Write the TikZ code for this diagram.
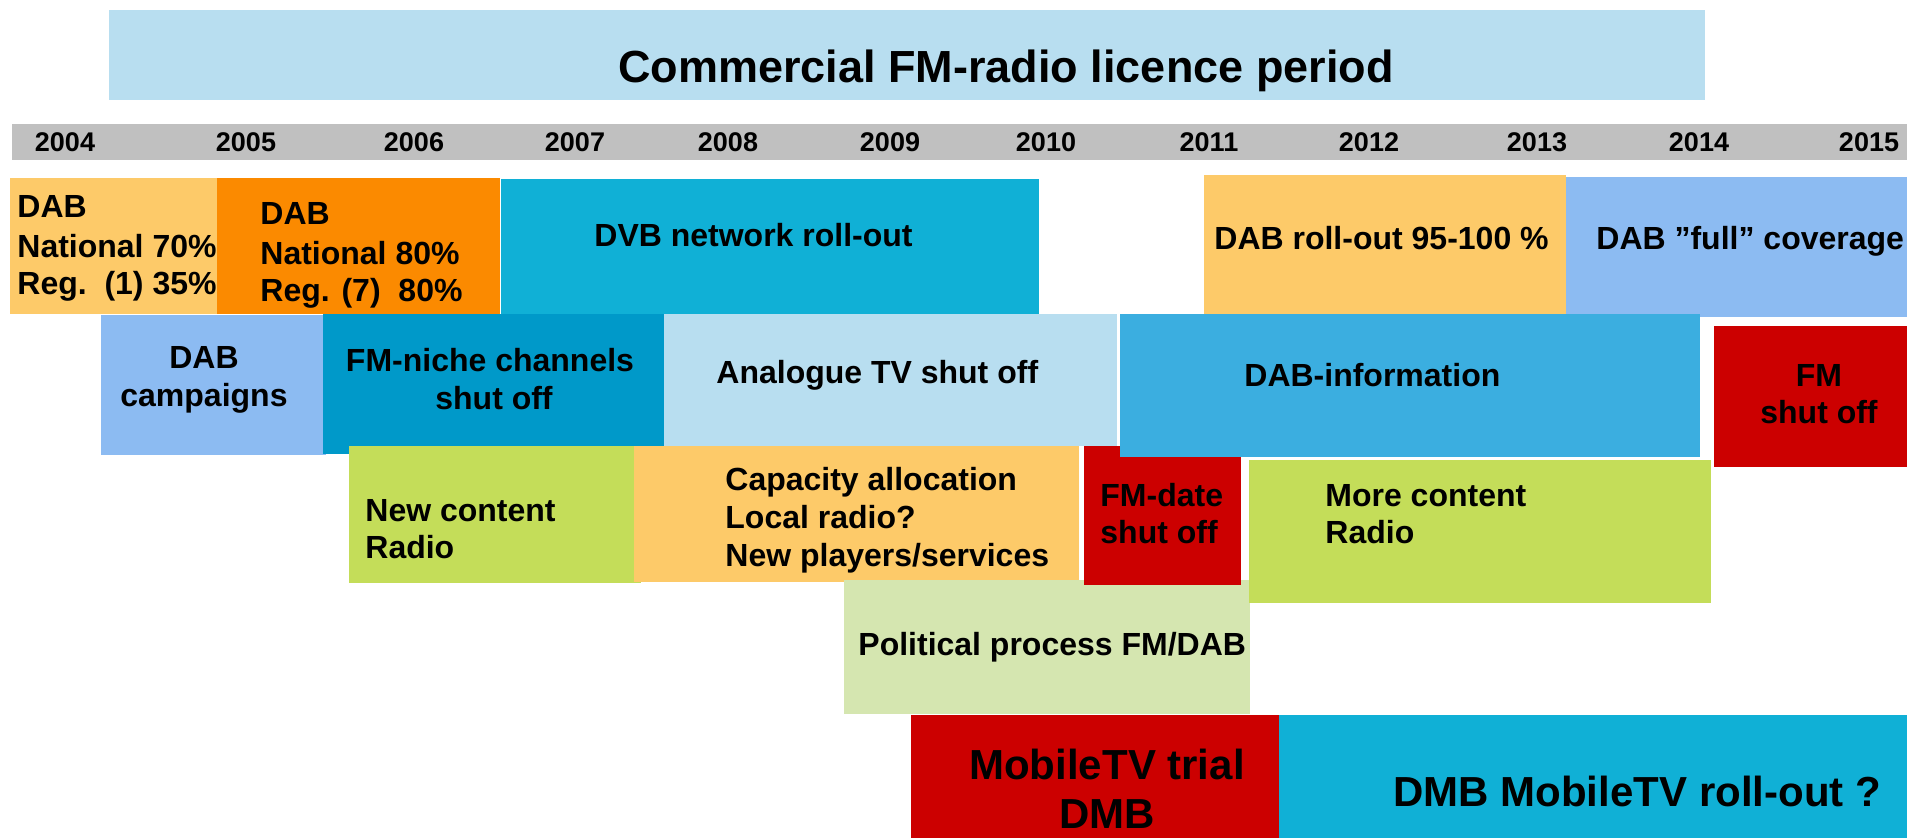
\documentclass[tikz,border=0pt]{standalone}
\usepackage{fontspec}
\setmainfont{Liberation Sans}
\definecolor{titlebg}{HTML}{B8DEF0}
\definecolor{yearbg}{HTML}{C0C0C0}
\definecolor{lorange}{HTML}{FDCA69}
\definecolor{dorange}{HTML}{FB8A00}
\definecolor{cyanA}{HTML}{10B0D6}
\definecolor{cyanB}{HTML}{0099C9}
\definecolor{lblue}{HTML}{8CBBF2}
\definecolor{pblue}{HTML}{B8DEF0}
\definecolor{mblue}{HTML}{3BAEE0}
\definecolor{redA}{HTML}{CC0000}
\definecolor{greenA}{HTML}{C4DD59}
\definecolor{pgreen}{HTML}{D5E6B0}
\begin{document}
\begin{tikzpicture}[x=0.5pt,y=-0.5pt,
  lbl/.style={inner sep=0pt, font=\fontsize{16}{19}\selectfont\bfseries, anchor=base west},
  lblc/.style={lbl, anchor=base},
  yr/.style={inner sep=0pt, font=\fontsize{13.5}{16}\selectfont\bfseries, anchor=base},
  big/.style={inner sep=0pt, font=\fontsize{21}{25}\selectfont\bfseries, anchor=base},
  ttl/.style={inner sep=0pt, font=\fontsize{22.5}{27}\selectfont\bfseries, anchor=base west}]
\useasboundingbox (0,0) rectangle (1907,838);
% title and years
\fill[titlebg] (109,10) rectangle (1705,100);
\fill[yearbg] (12,124) rectangle (1907,160);
% row 1
\fill[lorange] (10,178) rectangle (217,314);
\fill[dorange] (217,178) rectangle (500,314);
\fill[cyanA] (501,179) rectangle (1039,314);
\fill[lorange] (1204,175) rectangle (1566,314);
\fill[lblue] (1566,177) rectangle (1907,317);
% row 2
\fill[lblue] (101,315) rectangle (326,455);
\fill[cyanB] (323,314) rectangle (664,454);
\fill[pblue] (664,314) rectangle (1117,446);
\fill[redA] (1714,326) rectangle (1907,467);
% row 3
\fill[greenA] (349,446) rectangle (641,583);
\fill[lorange] (634,446) rectangle (1079,582);
\fill[pgreen] (844,580) rectangle (1250,714);
\fill[redA] (1084,446) rectangle (1241,585);
\fill[mblue] (1120,314) rectangle (1700,457);
\fill[greenA] (1249,460) rectangle (1711,603);
% row 4
\fill[redA] (911,715) rectangle (1279,838);
\fill[cyanA] (1279,715) rectangle (1907,838);
% texts
\node[ttl] (title) at (618,83) {Commercial FM-radio licence period};
\node[yr] (y04) at (65,152) {2004};
\node[yr] (y05) at (246,152) {2005};
\node[yr] (y06) at (414,152) {2006};
\node[yr] (y07) at (575,152) {2007};
\node[yr] (y08) at (728,152) {2008};
\node[yr] (y09) at (890,152) {2009};
\node[yr] (y10) at (1046,152) {2010};
\node[yr] (y11) at (1209,152) {2011};
\node[yr] (y12) at (1369,152) {2012};
\node[yr] (y13) at (1537,152) {2013};
\node[yr] (y14) at (1699,152) {2014};
\node[yr] (y15) at (1869,152) {2015};
% row1 texts
\node[lbl] (a1) at (17,218) {DAB};
\node[lbl] (a2) at (17,258) {National 70\%};
\node[lbl] (a3) at (17,295) {Reg.\ \ (1) 35\%};
\node[lbl] (b1) at (260,225) {DAB};
\node[lbl] (b2) at (260,265) {National 80\%};
\node[lbl] (b3) at (260,302) {Reg. (7)\ \ 80\%};
\node[lbl] (c1) at (594,247) {DVB network roll-out};
\node[lbl] (d1) at (1214,250) {DAB roll-out 95-100 \%};
\node[lbl] (e1) at (1596,250) {DAB ”full” coverage};
% row2 texts
\node[lblc] (f1) at (204,369) {DAB};
\node[lblc] (f2) at (204,407) {campaigns};
\node[lblc] (g1) at (490,372) {FM-niche channels};
\node[lblc] (g2) at (494,410) {shut off};
\node[lbl] (h1) at (716,384) {Analogue TV shut off};
\node[lbl] (i1) at (1244,387) {DAB-information};
\node[lblc] (j1) at (1819,387) {FM};
\node[lblc] (j2) at (1819,424) {shut off};
% row3 texts
\node[lbl] (k1) at (365,522) {New content};
\node[lbl] (k2) at (365,559) {Radio};
\node[lbl] (l1) at (725,491) {Capacity allocation};
\node[lbl] (l2) at (725,529) {Local radio?};
\node[lbl] (l3) at (725,567) {New players/services};
\node[lbl] (m1) at (1100,507) {FM-date};
\node[lbl] (m2) at (1100,544) {shut off};
\node[lbl] (n1) at (1325,507) {More content};
\node[lbl] (n2) at (1325,544) {Radio};
\node[lbl] (o1) at (858,656) {Political process FM/DAB};
% row4 texts
\node[big] (p1) at (1107,780) {MobileTV trial};
\node[big] (p2) at (1107,829) {DMB};
\node[big, anchor=base west] (q1) at (1393,807) {DMB MobileTV roll-out ?};
\end{tikzpicture}
\end{document}
